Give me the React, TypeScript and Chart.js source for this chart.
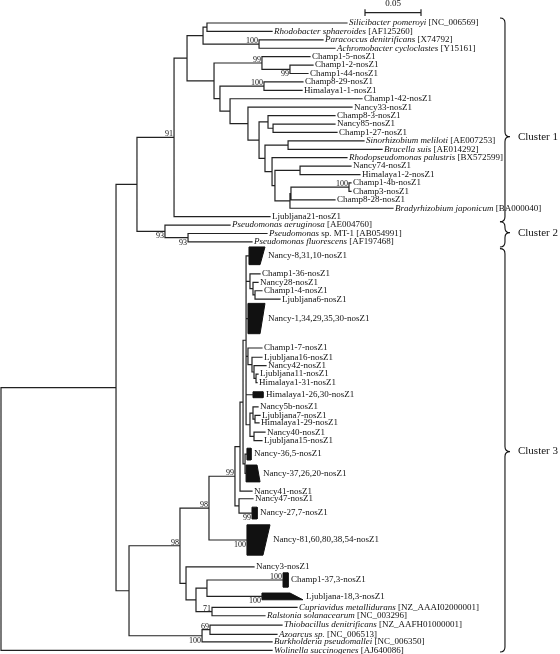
import React, { useEffect, useRef } from "react";
import { Chart, registerables } from "chart.js";

Chart.register(...registerables);

// Internal nodes: [id, parent, cumulative distance from root]
const internalNodes: [string, string | null, number][] = [
  ["root", null, 0],
  ["A", "root", 0.1027],
  ["B", "A", 0.1214],
  ["C1", "B", 0.1545],
  ["C2", "B", 0.1464],
  ["E", "C2", 0.167],
  ["D", "C1", 0.1661],
  ["F", "D", 0.1804],
  ["H", "F", 0.1839],
  ["I", "F", 0.2304],
  ["G", "D", 0.1902],
  ["J", "G", 0.233],
  ["L", "J", 0.258],
  ["K", "G", 0.1955],
  ["M", "K", 0.2348],
  ["N", "K", 0.2045],
  ["O", "N", 0.2205],
  ["P", "O", 0.2304],
  ["Q", "P", 0.2384],
  ["R", "Q", 0.2429],
  ["U", "P", 0.2357],
  ["T", "U", 0.2563],
  ["V", "U", 0.242],
  ["W", "V", 0.2446],
  ["X", "W", 0.267],
  ["Y", "W", 0.258],
  ["Z", "Y", 0.2589],
  ["AA", "Z", 0.3107],
  ["C3", "A", 0.1143],
  ["AB", "C3", 0.1598],
  ["AE", "AB", 0.1857],
  ["AJ", "AE", 0.2089],
  ["AK", "AJ", 0.2134],
  ["AM", "AK", 0.2161],
  ["AN", "AM", 0.2188],
  ["G1", "AN", 0.2223],
  ["G1b", "G1", 0.225],
  ["G1c", "G1b", 0.2268],
  ["G2", "AN", 0.2205],
  ["G2b", "G2", 0.2241],
  ["G2c", "G2b", 0.2259],
  ["G2d", "G2c", 0.2277],
  ["G3", "AN", 0.2223],
  ["G3a", "G3", 0.225],
  ["G3b", "G3a", 0.2268],
  ["G3c", "G3", 0.2259],
  ["AO", "AM", 0.2179],
  ["AL", "AJ", 0.2125],
  ["AF", "AB", 0.1652],
  ["AG", "AF", 0.1741],
  ["AH", "AG", 0.1839],
  ["AI", "AG", 0.1884],
  ["AC", "C3", 0.1795],
  ["AD", "AC", 0.1866],
];

// Leaves: [italic part, roman part, parent, distance from root, row]
const leaves: [string, string, string, number, number][] = [
  ["Silicibacter pomeroyi", " [NC_006569]", "H", 0.3089, 0],
  ["Rhodobacter sphaeroides", " [AF125260]", "H", 0.242, 1],
  ["Paracoccus denitrificans", " [X74792]", "I", 0.2875, 2],
  ["Achromobacter cycloclastes", " [Y15161]", "I", 0.2982, 3],
  ["", "Champ1-5-nosZ1", "J", 0.2759, 4],
  ["", "Champ1-2-nosZ1", "L", 0.2786, 5],
  ["", "Champ1-44-nosZ1", "L", 0.2741, 6],
  ["", "Champ8-29-nosZ1", "M", 0.2696, 7],
  ["", "Himalaya1-1-nosZ1", "M", 0.2688, 8],
  ["", "Champ1-42-nosZ1", "N", 0.3223, 9],
  ["", "Nancy33-nosZ1", "O", 0.3134, 10],
  ["", "Champ8-3-nosZ1", "Q", 0.2982, 11],
  ["", "Nancy85-nosZ1", "R", 0.2982, 12],
  ["", "Champ1-27-nosZ1", "R", 0.3, 13],
  ["Sinorhizobium meliloti", " [AE007253]", "T", 0.3241, 14],
  ["Brucella suis", " [AE014292]", "T", 0.3402, 15],
  ["Rhodopseudomonas palustris", " [BX572599]", "V", 0.3089, 16],
  ["", "Nancy74-nosZ1", "X", 0.3125, 17],
  ["", "Himalaya1-2-nosZ1", "X", 0.3205, 18],
  ["", "Champ1-4b-nosZ1", "AA", 0.3125, 19],
  ["", "Champ3-nosZ1", "AA", 0.3125, 20],
  ["", "Champ8-28-nosZ1", "Z", 0.2982, 21],
  ["Bradyrhizobium japonicum", " [BA000040]", "Y", 0.35, 22],
  ["", "Ljubljana21-nosZ1", "C1", 0.2402, 23],
  ["Pseudomonas aeruginosa", " [AE004760]", "C2", 0.2045, 24],
  ["Pseudomonas", " sp. MT-1 [AB054991]", "E", 0.2375, 25],
  ["Pseudomonas fluorescens", " [AF197468]", "E", 0.2241, 26],
  ["", "Champ1-36-nosZ1", "G1", 0.2313, 29.8],
  ["", "Nancy28-nosZ1", "G1b", 0.2295, 30.8],
  ["", "Champ1-4-nosZ1", "G1c", 0.233, 31.8],
  ["", "Ljubljana6-nosZ1", "G1c", 0.2491, 32.8],
  ["", "Champ1-7-nosZ1", "G2", 0.233, 38.6],
  ["", "Ljubljana16-nosZ1", "G2b", 0.233, 39.7],
  ["", "Nancy42-nosZ1", "G2c", 0.2366, 40.7],
  ["", "Ljubljana11-nosZ1", "G2d", 0.2295, 41.7],
  ["", "Himalaya1-31-nosZ1", "G2d", 0.2286, 42.7],
  ["", "Nancy5b-nosZ1", "G3a", 0.2295, 45.6],
  ["", "Ljubljana7-nosZ1", "G3b", 0.2313, 46.6],
  ["", "Himalaya1-29-nosZ1", "G3b", 0.2304, 47.5],
  ["", "Nancy40-nosZ1", "G3c", 0.2357, 48.6],
  ["", "Ljubljana15-nosZ1", "G3c", 0.233, 49.6],
  ["", "Nancy41-nosZ1", "AK", 0.2241, 55.6],
  ["", "Nancy47-nosZ1", "AL", 0.225, 56.5],
  ["", "Nancy3-nosZ1", "AF", 0.2259, 64.6],
  ["Cupriavidus metallidurans", " [NZ_AAAI02000001]", "AI", 0.2643, 69.4],
  ["Ralstonia solanacearum", " [NC_003296]", "AI", 0.2357, 70.4],
  ["Thiobacillus denitrificans", " [NZ_AAFH01000001]", "AD", 0.2509, 71.5],
  ["Azoarcus sp.", " [NC_006513]", "AD", 0.2464, 72.6],
  ["Burkholderia pseudomallei", " [NC_006350]", "AC", 0.242, 73.5],
  ["Wolinella succinogenes", " [AJ640086]", "root", 0.242, 74.5],
];

// Collapsed clades: [id, label, parent, node dist, top tip dist, bottom tip dist, top row, bottom row]
const clades: [string, string, string, number, number, number, number, number][] = [
  ["c1", "Nancy-8,31,10-nosZ1", "AN", 0.2214, 0.2357, 0.2313, 26.6, 28.7],
  ["c2", "Nancy-1,34,29,35,30-nosZ1", "AN", 0.2205, 0.2357, 0.2313, 33.3, 36.9],
  ["c3", "Himalaya1-26,30-nosZ1", "AN", 0.225, 0.2339, 0.2339, 43.8, 44.5],
  ["c4", "Nancy-36,5-nosZ1", "AO", 0.2196, 0.2232, 0.2232, 50.5, 51.9],
  ["c5", "Nancy-37,26,20-nosZ1", "AO", 0.2188, 0.2286, 0.2313, 52.5, 54.5],
  ["c6", "Nancy-27,7-nosZ1", "AL", 0.2241, 0.2286, 0.2286, 57.5, 58.9],
  ["c7", "Nancy-81,60,80,38,54-nosZ1", "AE", 0.2196, 0.2402, 0.2339, 59.6, 63.2],
  ["c8", "Champ1-37,3-nosZ1", "AH", 0.2518, 0.2563, 0.2563, 65.3, 67.0],
  ["c9", "Ljubljana-18,3-nosZ1", "AH", 0.233, 0.258, 0.2696, 67.7, 68.5],
];

// Bootstrap values: [node id, value, a = above branch / b = below]
const bootstraps: [string, number, "a" | "b"][] = [
  ["I", 100, "a"], ["J", 99, "a"], ["L", 99, "b"], ["M", 100, "a"], ["AA", 100, "a"],
  ["C1", 91, "a"], ["C2", 93, "b"], ["E", 93, "b"], ["AJ", 99, "a"], ["AE", 98, "a"],
  ["AB", 98, "a"], ["c6", 99, "b"], ["c7", 100, "b"], ["c8", 100, "a"], ["c9", 100, "b"],
  ["AI", 71, "a"], ["AD", 69, "a"], ["AC", 100, "b"],
];

// Clusters: [label, top row, bottom row, tip row]
const clusters: [string, number, number, number][] = [
  ["Cluster 1", -0.6, 23.6, 13.5],
  ["Cluster 2", 23.6, 26.6, 24.9],
  ["Cluster 3", 26.8, 74.7, 50.9],
];

const scaleBarLength = 0.05;
const scaleBarStart = 0.325;
const scaleBarRow = -1.22;
const scaleBarLabel = "0.05";
const braceDist = 0.4455;

const SERIF = '"Liberation Serif", "Times New Roman", serif';

export default function App() {
  const ref = useRef<HTMLCanvasElement>(null);

  useEffect(() => {
    document.body.style.margin = "0";
    const canvas = ref.current;
    if (!canvas) return;

    const depth: Record<string, number> = {};
    const parent: Record<string, string | null> = {};
    const children: Record<string, string[]> = {};
    const rowOf: Record<string, number> = {};
    internalNodes.forEach(([id, p, d]) => {
      depth[id] = d;
      parent[id] = p;
      children[id] = [];
    });
    internalNodes.forEach(([id, p]) => {
      if (p) children[p].push(id);
    });
    leaves.forEach(([, , p, d, r], i) => {
      const id = "leaf" + i;
      depth[id] = d;
      parent[id] = p;
      rowOf[id] = r;
      children[p].push(id);
    });
    clades.forEach(([id, , p, nd, , , tr, br]) => {
      depth[id] = nd;
      parent[id] = p;
      rowOf[id] = (tr + br) / 2;
      children[p].push(id);
    });
    const getRow = (id: string): number => {
      if (rowOf[id] !== undefined) return rowOf[id];
      const rs = children[id].map(getRow);
      const r = (Math.min(...rs) + Math.max(...rs)) / 2;
      rowOf[id] = r;
      return r;
    };
    getRow("root");

    const seg: { x: number; y: number | null }[] = [];
    Object.keys(depth).forEach((id) => {
      const p = parent[id];
      if (p) {
        seg.push({ x: depth[p], y: rowOf[id] }, { x: depth[id], y: rowOf[id] }, { x: depth[id], y: null });
      }
      const ch = children[id];
      if (ch && ch.length) {
        const rs = ch.map((c) => rowOf[c]);
        seg.push(
          { x: depth[id], y: Math.min(...rs) },
          { x: depth[id], y: Math.max(...rs) },
          { x: depth[id], y: null }
        );
      }
    });

    const cladeSets = clades.map(([, , , nd, td, bd, tr, br]) => ({
      data: [
        { x: nd, y: tr },
        { x: td, y: tr },
        { x: bd, y: br },
        { x: nd, y: br },
        { x: nd, y: tr },
      ],
      borderColor: "#111",
      backgroundColor: "#111",
      borderWidth: 1,
      pointRadius: 0,
      fill: "shape",
      tension: 0,
    }));

    const barData = [
      { x: scaleBarStart, y: scaleBarRow },
      { x: scaleBarStart + scaleBarLength, y: scaleBarRow },
      { x: scaleBarStart + scaleBarLength, y: null },
      { x: scaleBarStart, y: scaleBarRow - 0.4 },
      { x: scaleBarStart, y: scaleBarRow + 0.4 },
      { x: scaleBarStart, y: null },
      { x: scaleBarStart + scaleBarLength, y: scaleBarRow - 0.4 },
      { x: scaleBarStart + scaleBarLength, y: scaleBarRow + 0.4 },
    ];

    const labelPlugin = {
      id: "treeLabels",
      afterDatasetsDraw(chart: any) {
        const ctx = chart.ctx as CanvasRenderingContext2D;
        const xs = chart.scales.x;
        const ys = chart.scales.y;
        const X = (v: number) => xs.getPixelForValue(v);
        const Y = (v: number) => ys.getPixelForValue(v);
        ctx.save();
        ctx.fillStyle = "#111";
        ctx.textBaseline = "middle";
        ctx.textAlign = "left";
        leaves.forEach(([it, ro, , d, r]) => {
          let x = X(d) + 2;
          const y = Y(r);
          if (it) {
            ctx.font = `italic 9px ${SERIF}`;
            ctx.fillText(it, x, y);
            x += ctx.measureText(it).width;
          }
          ctx.font = `9px ${SERIF}`;
          ctx.fillText(ro, x, y);
        });
        ctx.font = `9px ${SERIF}`;
        clades.forEach(([, label, , , td, bd, tr, br]) => {
          ctx.fillText(label, X(Math.max(td, bd)) + 3, Y((tr + br) / 2));
        });
        // bootstrap values
        ctx.font = `8px ${SERIF}`;
        ctx.textAlign = "right";
        bootstraps.forEach(([id, v, pos]) => {
          const x = X(depth[id]) - 1;
          const y = Y(rowOf[id]);
          if (pos === "a") {
            ctx.textBaseline = "alphabetic";
            ctx.fillText(String(v), x, y - 1);
          } else {
            ctx.textBaseline = "top";
            ctx.fillText(String(v), x, y + 1);
          }
        });
        // scale bar label
        ctx.textAlign = "center";
        ctx.textBaseline = "middle";
        ctx.font = `9px ${SERIF}`;
        ctx.fillText(scaleBarLabel, X(scaleBarStart + scaleBarLength / 2), Y(scaleBarRow) - 9);
        // braces
        ctx.strokeStyle = "#111";
        ctx.lineWidth = 1.1;
        clusters.forEach(([label, t, b, tip]) => {
          const x0 = X(braceDist);
          const xs2 = x0 + 5;
          const xt = x0 + 10;
          const yt = Y(t);
          const yb = Y(b);
          const ym = Y(tip);
          const r = Math.min(5, (ym - yt) / 2, (yb - ym) / 2);
          ctx.beginPath();
          ctx.moveTo(x0, yt);
          ctx.quadraticCurveTo(xs2, yt, xs2, yt + r);
          ctx.lineTo(xs2, ym - r);
          ctx.quadraticCurveTo(xs2, ym, xt, ym);
          ctx.quadraticCurveTo(xs2, ym, xs2, ym + r);
          ctx.lineTo(xs2, yb - r);
          ctx.quadraticCurveTo(xs2, yb, x0, yb);
          ctx.stroke();
          ctx.textAlign = "left";
          ctx.font = `11px ${SERIF}`;
          ctx.fillText(label, xt + 8, ym);
        });
        ctx.restore();
      },
    };

    const chart = new Chart(canvas, {
      type: "line",
      data: {
        datasets: [
          {
            data: seg as any,
            borderColor: "#222",
            borderWidth: 1.2,
            pointRadius: 0,
            fill: false,
            tension: 0,
            spanGaps: false,
            borderCapStyle: "square",
          } as any,
          ...(cladeSets as any[]),
          {
            data: barData as any,
            borderColor: "#222",
            borderWidth: 1.2,
            pointRadius: 0,
            fill: false,
            spanGaps: false,
          } as any,
        ],
      },
      options: {
        animation: false,
        responsive: false,
        events: [],
        layout: { padding: 0 },
        plugins: { legend: { display: false }, tooltip: { enabled: false } },
        scales: {
          x: { type: "linear", display: false, min: -0.00089, max: 0.4991 },
          y: { type: "linear", display: false, min: -2.73, max: 74.94, reverse: true },
        },
      },
      plugins: [labelPlugin],
    });
    return () => chart.destroy();
  }, []);

  return (
    <div style={{ width: 560, height: 654, background: "#fff" }}>
      <canvas ref={ref} width={560} height={654} style={{ display: "block" }} />
    </div>
  );
}
